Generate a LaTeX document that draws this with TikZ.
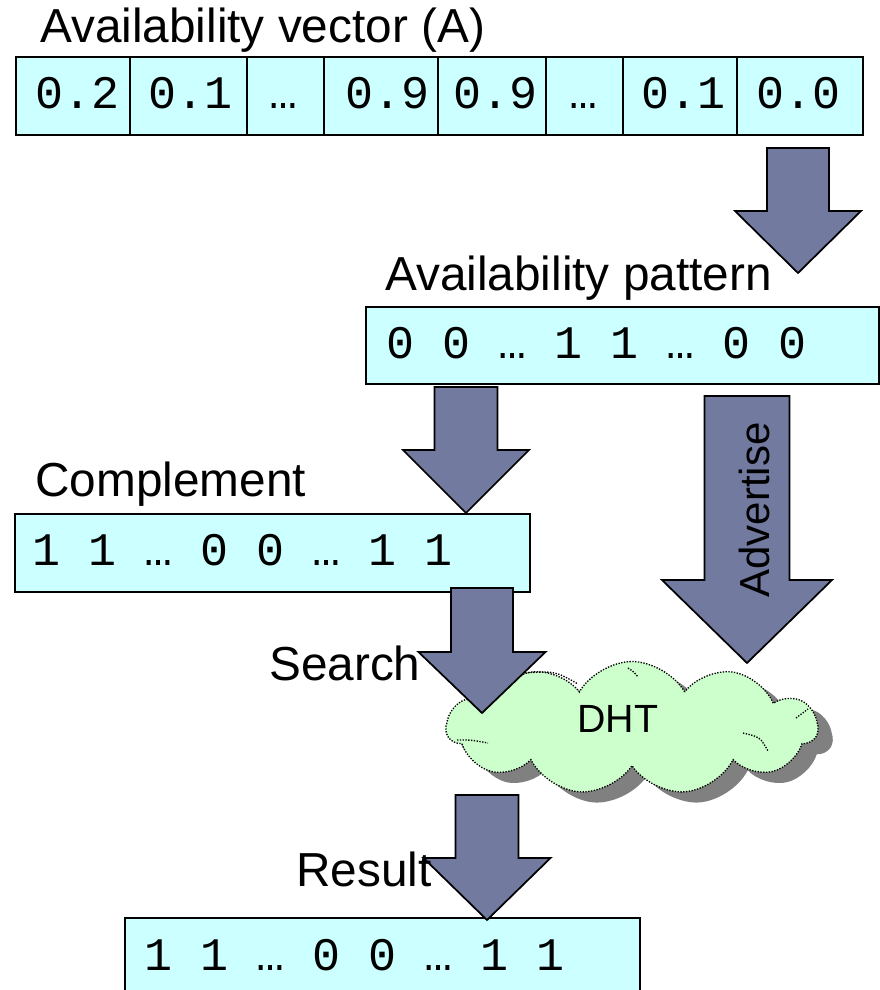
\documentclass[tikz,border=0pt]{standalone}
\usepackage{fontspec}
\setmainfont{Liberation Sans}
\newfontfamily\codefont{Liberation Mono}
\usetikzlibrary{shapes.symbols,shadows}
\definecolor{cellfill}{HTML}{CCFFFF}
\definecolor{arrowfill}{RGB}{114,122,160}
\definecolor{cloudfill}{HTML}{CCFFCC}
\definecolor{shadowgray}{HTML}{808080}

% downward block arrow: centre x, shaft top, head base, tip, shaft half width, head half width
\newcommand\blockdown[6]{%
  \draw[blockarrow] (#1-#5,#2) -- (#1+#5,#2) -- (#1+#5,#3) -- (#1+#6,#3)
    -- (#1,#4) -- (#1-#6,#3) -- (#1-#5,#3) -- cycle;}

\begin{document}
\begin{tikzpicture}[x=0.75pt,y=-0.75pt,
  tagtext/.style={anchor=base west, inner sep=0pt, font=\fontsize{35.8}{40}\selectfont},
  bits/.style={anchor=base west, inner sep=0pt, font=\codefont\fontsize{35}{40}\selectfont},
  vecbox/.style={draw=black, line width=1.5pt, fill=cellfill, rectangle, inner sep=0pt, anchor=north west},
  blockarrow/.style={draw=black, line width=1.3pt, fill=arrowfill, line join=miter},
  dotline/.style={draw=black, line width=1pt, dash pattern=on 1pt off 1.1pt},
]
\useasboundingbox (0,0) rectangle (880,990);

% availability vector cells
\foreach \l/\r/\c/\v [count=\i] in {15/129/78/0.2, 129/246/191/0.1, 246/323/284/…,
    323/437/388/0.9, 437/545/496/0.9, 545/622/583/…, 622/736/684/0.1, 736/862/799/0.0}{
  \node[vecbox, minimum width={(\r-\l)*0.75pt}, minimum height={78*0.75pt}] (c\i) at (\l,56) {};
  \node[bits, anchor=base] (v\i) at (\c,108) {\v};
}

% pattern, complement and result vectors
\node[vecbox, minimum width={513*0.75pt}, minimum height={77*0.75pt}] (pattern) at (365,306) {};
\node[vecbox, minimum width={515*0.75pt}, minimum height={78*0.75pt}] (complement) at (14,513) {};
\node[vecbox, minimum width={515*0.75pt}, minimum height={82*0.75pt}] (result) at (124,917) {};

\node[bits] (pattext) at (386,358) {0 0 … 1 1 … 0 0};
\node[bits] (comptext) at (32,565) {1 1 … 0 0 … 1 1};
\node[bits] (restext) at (144,970) {1 1 … 0 0 … 1 1};

% the DHT cloud
\node[cloud, cloud puffs=11, cloud puff arc=120, cloud ignores aspect,
      minimum width={371*0.75pt}, minimum height={133*0.75pt}, inner sep=0pt,
      fill=cloudfill, dotline,
      drop shadow={shadow xshift=11pt, shadow yshift=-8pt, fill=shadowgray, opacity=1}]
      (dht) at (632,728) {};
\draw[dotline] (522,673) .. controls (555,671) .. (578,684);
\draw[dotline] (796,718) .. controls (802,713) .. (808,709);
\draw[dotline] (743,733) .. controls (760,737) .. (768,751);
\draw[dotline] (457,740) .. controls (472,740) .. (488,743);
\draw[dotline] (628,668) .. controls (634,672) .. (638,677);
\node[font=\fontsize{29.5}{34}\selectfont, anchor=base, inner sep=0pt] (dhtlabel) at (618,732) {DHT};

% block arrows
\blockdown{798}{148}{211}{273}{31}{63}
\blockdown{466}{387}{450}{513}{31.5}{63}
\blockdown{747}{396}{580}{663}{42.5}{85}
\blockdown{482}{588}{652}{713}{31}{63.5}
\blockdown{487}{795}{858}{920}{31.5}{63.5}

% captions
\node[tagtext] (title) at (40,42) {Availability vector (A)};
\node[tagtext] (patlabel) at (385,290) {Availability pattern};
\node[tagtext] (complabel) at (35,496) {Complement};
\node[tagtext] (searchlabel) at (269,680) {Search};
\node[tagtext] (resultlabel) at (296,886) {Result};
\node[font=\fontsize{31.5}{36}\selectfont, rotate=90, anchor=base, inner sep=0pt] (advlabel) at (769,510) {Advertise};
\end{tikzpicture}
\end{document}
